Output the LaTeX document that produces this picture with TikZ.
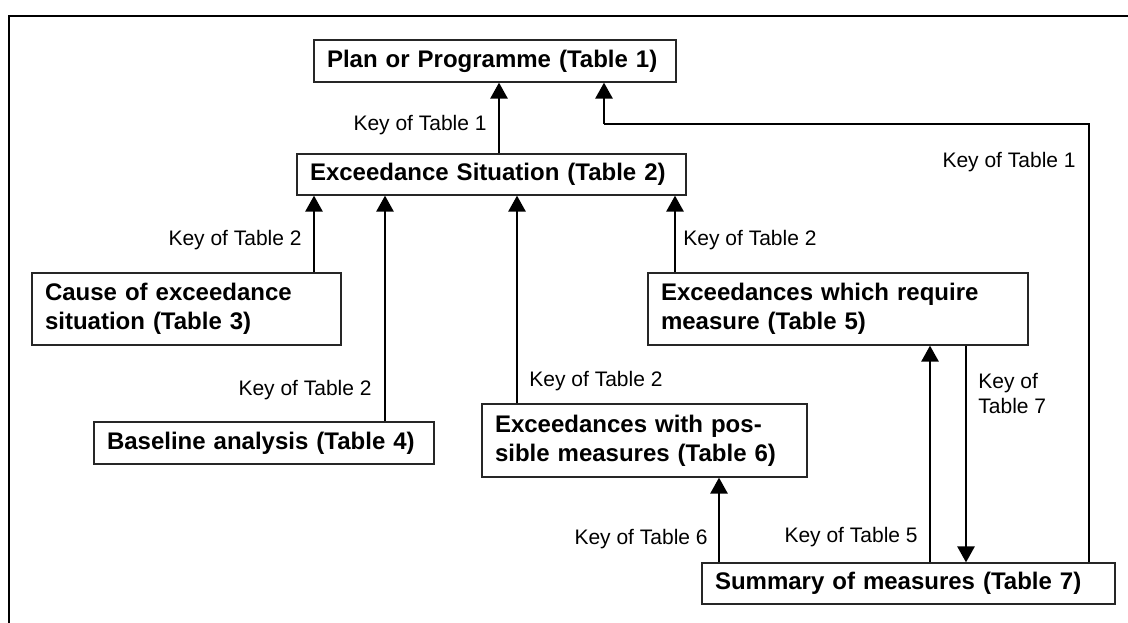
\documentclass[tikz,border=0pt]{standalone}
\usepackage{fontspec}
\setmainfont{Liberation Sans}
\usetikzlibrary{arrows.meta, positioning}
\tikzset{
  tb/.style = {draw=black!85, fill=white, line width=0.6pt, inner xsep=6.5pt,
    inner ysep=0pt, align=left, anchor=center,
    font=\fontsize{12}{14.5}\selectfont\bfseries},
  tbarr/.style = {-{Triangle[length=8pt, width=8.5pt]}, line width=1.3pt},
  tblin/.style = {draw=black, line width=0.55pt},
  tbkey/.style = {inner sep=0pt, align=left, font=\fontsize{10.5}{12.5}\selectfont},
  tbframe/.style = {draw=black, line width=1.3pt}
}
\begin{document}
\begin{tikzpicture}[x=0.5pt, y=-0.5pt]
  \useasboundingbox (0,0) rectangle (1128,622);
  \draw [tbframe] (1130,16) -- (9,16) -- (9,624);
  \node [tb, text width=168pt, minimum height=21pt] (plan) at (495,61) {Plan or Programme (Table 1)};
  \node [tb, text width=181.5pt, minimum height=20.5pt] (sit) at (491.5,174.5) {Exceedance Situation (Table 2)};
  \node [tb, text width=141.5pt, minimum height=36pt] (cause) at (186.5,309) {Cause of exceedance\\situation (Table 3)};
  \node [tb, text width=157pt, minimum height=21pt] (base) at (264,443) {Baseline analysis (Table 4)};
  \node [tb, text width=149.5pt, minimum height=36.5pt] (meas) at (644.5,440.5) {Exceedances with pos-\\sible measures (Table 6)};
  \node [tb, text width=177pt, minimum height=36pt] (req) at (838,309) {Exceedances which require\\measure (Table 5)};
  \node [tb, text width=193.5pt, minimum height=20.5pt] (summ) at (908.5,583.5) {Summary of measures (Table 7)};
  \draw [tbarr] (499,0 |- sit.north) -- (499,0 |- plan.south);
  \draw [tbarr] (314,0 |- cause.north) -- (314,0 |- sit.south);
  \draw [tbarr] (385,0 |- base.north) -- (385,0 |- sit.south);
  \draw [tbarr] (517,0 |- meas.north) -- (517,0 |- sit.south);
  \draw [tbarr] (675,0 |- req.north) -- (675,0 |- sit.south);
  \draw [tbarr] (719,0 |- summ.north) -- (719,0 |- meas.south);
  \draw [tbarr] (930,0 |- summ.north) -- (930,0 |- req.south);
  \draw [tbarr] (966,0 |- req.south) -- (966,0 |- summ.north);
  \coordinate (ret) at (1089,124);
  \coordinate (retin) at (604,124);
  \draw [tblin] (ret |- summ.north) -- (ret) -- (retin);
  \draw [tbarr] (retin) -- (retin |- plan.south);
  \node [tbkey, anchor=east] (k1) at (487,125) {Key of Table 1};
  \node [tbkey, anchor=east] (k2a) at (302,240) {Key of Table 2};
  \node [tbkey, anchor=east] (k2b) at (372,390) {Key of Table 2};
  \node [tbkey, anchor=west] (k2c) at (529,381) {Key of Table 2};
  \node [tbkey, anchor=west] (k2d) at (683,240) {Key of Table 2};
  \node [tbkey, anchor=east] (k1r) at (1076,162) {Key of Table 1};
  \node [tbkey, anchor=east] (k6) at (708,539) {Key of Table 6};
  \node [tbkey, anchor=east] (k5) at (918,537) {Key of Table 5};
  \node [tbkey, anchor=west] (k7) at (978,393.5) {Key of\\Table 7};
\end{tikzpicture}
\end{document}
